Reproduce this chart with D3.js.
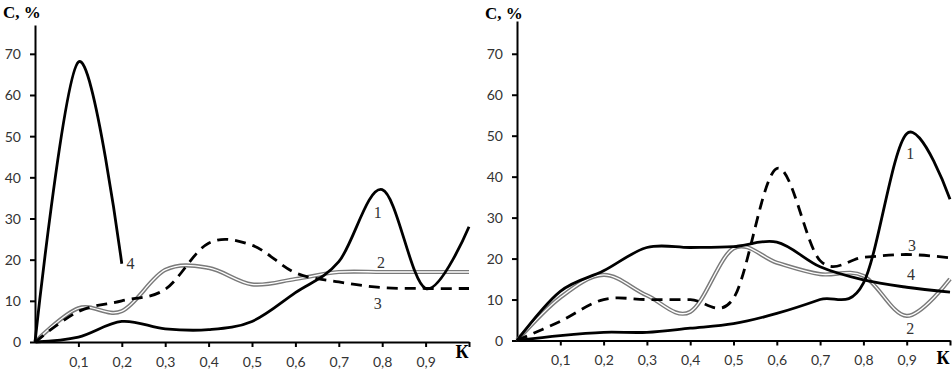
<!DOCTYPE html>
<html>
<head>
<meta charset="utf-8">
<script src="https://cdn.jsdelivr.net/npm/d3@7"></script>
<style>
  body { margin: 0; background: #fff; }
  svg { display: block; }
  .tick text { font-family: Lato, "Open Sans", sans-serif; font-size: 14px; fill: #333; }
  .domain, .tick line { stroke: #000; stroke-width: 2; }
</style>
</head>
<body>
<div id="chart"></div>
<script>
// K values (common grid for all curves)
var kValues = [0, 0.1, 0.2, 0.3, 0.4, 0.5, 0.6, 0.7, 0.8, 0.9, 1.0];
var kTicks = [0.1, 0.2, 0.3, 0.4, 0.5, 0.6, 0.7, 0.8, 0.9, 1.0];
var cTicks = [0, 10, 20, 30, 40, 50, 60, 70];

// left chart, C %
var leftC1 = [0, 1.2, 5, 3.2, 3, 5, 12, 19.5, 37, 13, 28];
var leftC2 = [0, 8.2, 7.5, 17.5, 18, 14, 15.3, 17, 17, 17, 17];
var leftC3 = [0, 7.4, 10, 12.8, 24, 23.5, 16.8, 14.6, 13.2, 13, 13];
var leftC4 = [0, 68, 19];

// right chart, C %
var rightC1 = [0, 1.2, 2, 2, 3, 4.1, 6.6, 10, 14, 50.5, 34.5];
var rightC2 = [0, 10.5, 16, 11, 7, 22.5, 19, 16.2, 15.8, 6, 15];
var rightC3 = [0, 4.7, 10, 10, 10, 10.3, 42, 19.5, 20.3, 21, 20.2];
var rightC4 = [0, 12, 17, 22.7, 22.7, 22.9, 24, 18, 14.8, 13, 11.8];

var labelsLeft = [
    {t: "1", k: 0.79, c: 31.6},
    {t: "2", k: 0.797, c: 19.4},
    {t: "3", k: 0.79, c: 9.3},
    {t: "4", k: 0.22, c: 19.2}
];
var labelsRight = [
    {t: "1", k: 0.908, c: 45.7},
    {t: "3", k: 0.912, c: 23.3},
    {t: "4", k: 0.91, c: 16.2},
    {t: "2", k: 0.908, c: 3.0}
];

var svg = d3.select("#chart").append("svg")
    .attr("width", 952)
    .attr("height", 370);

var fmt = function (d) { return d >= 1 ? "" : String(d).replace(".", ","); };

function drawPanel(opt) {
    var x = d3.scaleLinear().domain([0, 1]).range([opt.x0, opt.x1]);
    var y = d3.scaleLinear().domain([0, opt.cTop]).range([opt.y0, opt.yTop]);

    var line = d3.line()
        .x(function (d) { return x(d[0]); })
        .y(function (d) { return y(d[1]); })
        .curve(d3.curveCatmullRom.alpha(0));

    var g = svg.append("g");

    // axes
    g.append("g")
        .attr("transform", "translate(0," + opt.y0 + ")")
        .call(d3.axisBottom(x).tickValues(kTicks).tickSize(5).tickSizeOuter(0).tickFormat(fmt))
        .call(function (a) { a.selectAll("text").attr("dy", "1.2em"); });

    g.append("g")
        .attr("transform", "translate(" + opt.x0 + ",0)")
        .call(d3.axisLeft(y).tickValues(cTicks).tickSize(5).tickSizeOuter(0).tickPadding(9))
        .call(function (a) { a.selectAll("text").attr("dy", "0.35em"); });

    // curves
    opt.series.forEach(function (s) {
        var pts = s.values.map(function (v, i) { return [kValues[i], v]; });
        if (s.style === "double") {
            g.append("path").attr("d", line(pts))
                .attr("fill", "none").attr("stroke", "#7a7a7a").attr("stroke-width", 4.2);
            g.append("path").attr("d", line(pts))
                .attr("fill", "none").attr("stroke", "#fff").attr("stroke-width", 1.3);
        } else {
            g.append("path").attr("d", line(pts))
                .attr("fill", "none")
                .attr("stroke", "#000")
                .attr("stroke-width", 2.8)
                .attr("stroke-dasharray", s.style === "dash" ? "11,7" : null);
        }
    });

    // curve numbers
    g.selectAll(".num").data(opt.labels).enter().append("text")
        .attr("x", function (d) { return x(d.k); })
        .attr("y", function (d) { return y(d.c); })
        .attr("dy", "0.35em")
        .attr("text-anchor", "middle")
        .style("font-family", "'Liberation Serif', serif")
        .style("font-size", "16px")
        .style("fill", "#333")
        .text(function (d) { return d.t; });

    // axis titles
    g.append("text")
        .attr("x", opt.x0 - 32).attr("y", opt.titleY)
        .style("font-family", "'Liberation Serif', serif")
        .style("font-weight", "bold")
        .style("font-size", "17px")
        .text("С, %");

    g.append("text")
        .attr("x", x(1) - 7).attr("y", opt.kY)
        .attr("text-anchor", "middle")
        .style("font-family", "'Liberation Serif', serif")
        .style("font-weight", "bold")
        .style("font-size", "18px")
        .text("К");
}

drawPanel({
    x0: 35, x1: 469, y0: 342, yTop: 25, cTop: 77, titleY: 18, kY: 358,
    series: [
        {values: leftC2, style: "double"},
        {values: leftC3, style: "dash"},
        {values: leftC1, style: "solid"},
        {values: leftC4, style: "solid"}
    ],
    labels: labelsLeft
});

drawPanel({
    x0: 517, x1: 950, y0: 340.5, yTop: 21, cTop: 78, titleY: 19, kY: 364,
    series: [
        {values: rightC2, style: "double"},
        {values: rightC3, style: "dash"},
        {values: rightC1, style: "solid"},
        {values: rightC4, style: "solid"}
    ],
    labels: labelsRight
});
</script>
</body>
</html>
